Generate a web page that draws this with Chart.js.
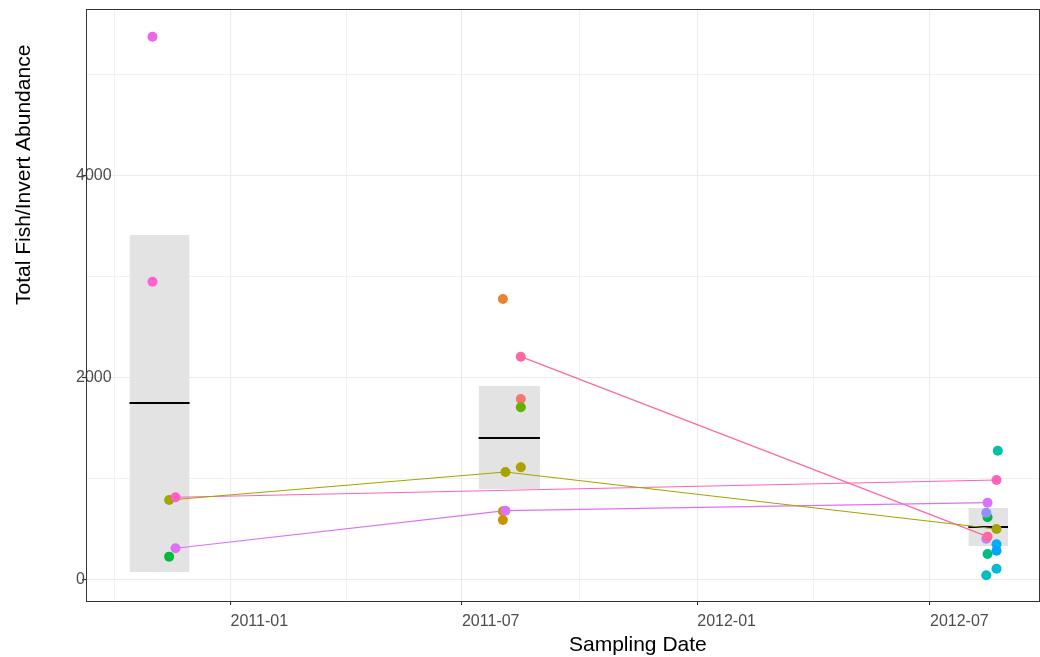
<!DOCTYPE html>
<html>
<head>
<meta charset="utf-8">
<title>Total Fish/Invert Abundance by Sampling Date</title>
<script src="https://cdn.jsdelivr.net/npm/chart.js@4.4.1/dist/chart.umd.min.js"></script>
<style>
  html, body { margin: 0; padding: 0; background: #ffffff; }
  #wrap { width: 1040px; height: 657px; }
</style>
</head>
<body>
<div id="wrap"><canvas id="chart" width="1040" height="657"></canvas></div>
<script>
// ---- Observations: one row per site visit ----
const obsDate = [
  '2010-11-01', '2010-11-01', '2010-11-14', '2010-11-19', '2010-11-14', '2010-11-19',
  '2011-08-02', '2011-08-16', '2011-08-16', '2011-08-16', '2011-08-16', '2011-08-04',
  '2011-08-02', '2011-08-02', '2011-08-04',
  '2012-08-23', '2012-08-22', '2012-08-15', '2012-08-15', '2012-08-14', '2012-08-22',
  '2012-08-14', '2012-08-15', '2012-08-22', '2012-08-22', '2012-08-15', '2012-08-22',
  '2012-08-14'
];
const obsSite = [
  18, 19, 5, 20, 7, 17,
  1, 21, 0, 6, 4, 5,
  2, 3, 17,
  11, 20, 17, 8, 15, 5,
  16, 21, 13, 14, 9, 12,
  10
];
const obsAbundance = [
  5379, 2953, 792, 819, 231, 314,
  2782, 2211, 1792, 1710, 1116, 1069,
  680, 594, 686,
  1280, 990, 765, 621, 666, 505,
  409, 429, 353, 290, 257, 112,
  47
];

// ---- Per-sampling-event summary: mean with shaded band ----
const eventStart = ['2010-10-14', '2011-07-14', '2012-07-31'];
const eventEnd   = ['2010-11-30', '2011-08-31', '2012-08-31'];
const eventMean  = [1752, 1406, 525];
const eventLow   = [79, 901, 337];
const eventHigh  = [3416, 1921, 713];

// ---- Axis ticks ----
const xTickDates  = ['2011-01-01', '2011-07-01', '2012-01-01', '2012-07-01'];
const xTickLabels = ['2011-01', '2011-07', '2012-01', '2012-07'];
const yTicks = [0, 2000, 4000];
const xRange = ['2010-09-10', '2012-09-25'];
const yRange = [-208, 5653];

// ---- Styling ----
const siteColours = [
  '#F8766D', '#EA8331', '#C99800', '#C89300', '#ADA000', '#A3A500',
  '#64B200', '#00BA38', '#00B64C', '#00BE80', '#00BFC0', '#00C1A3',
  '#00BAD9', '#00B0F6', '#00A5FF', '#8F91FF', '#B983FF', '#DD71F7',
  '#EE66E6', '#FD61D1', '#FF62BC', '#FF68A2'
];
const FONT = '"Liberation Sans", Arial, Helvetica, sans-serif';

const dayOf = s => Date.UTC(+s.slice(0, 4), +s.slice(5, 7) - 1, +s.slice(8, 10)) / 864e5;

const xMajor = xTickDates.map(dayOf);
const xMinor = [];
for (let i = 0; i < xMajor.length - 1; i++) xMinor.push((xMajor[i] + xMajor[i + 1]) / 2);
xMinor.unshift(xMajor[0] - (xMajor[1] - xMajor[0]) / 2);
const yMinor = [];
for (let i = 0; i < yTicks.length - 1; i++) yMinor.push((yTicks[i] + yTicks[i + 1]) / 2);
yMinor.push(yTicks[yTicks.length - 1] + (yTicks[1] - yTicks[0]) / 2);

const datasets = [];

// shaded bands
eventStart.forEach((s, i) => {
  datasets.push({
    type: 'line',
    data: [{ x: dayOf(s), y: eventHigh[i] }, { x: dayOf(eventEnd[i]), y: eventHigh[i] }],
    fill: { value: eventLow[i] },
    backgroundColor: '#E3E3E3',
    borderColor: 'rgba(0,0,0,0)',
    borderWidth: 0,
    pointRadius: 0,
    order: 4
  });
});

// mean bars
eventStart.forEach((s, i) => {
  datasets.push({
    type: 'line',
    data: [{ x: dayOf(s), y: eventMean[i] }, { x: dayOf(eventEnd[i]), y: eventMean[i] }],
    borderColor: '#000000',
    borderWidth: 2,
    pointRadius: 0,
    fill: false,
    order: 3
  });
});

// lines joining repeat visits to the same site
const bySite = {};
obsSite.forEach((site, i) => {
  (bySite[site] = bySite[site] || []).push({ x: dayOf(obsDate[i]), y: obsAbundance[i] });
});
Object.keys(bySite).forEach(site => {
  const pts = bySite[site].sort((a, b) => a.x - b.x);
  if (pts.length < 2) return;
  datasets.push({
    type: 'line',
    data: pts,
    borderColor: siteColours[site],
    borderWidth: 1.2,
    pointRadius: 0,
    fill: false,
    tension: 0,
    order: 2
  });
});

// observation points
datasets.push({
  type: 'scatter',
  data: obsDate.map((d, i) => ({ x: dayOf(d), y: obsAbundance[i] })),
  backgroundColor: obsSite.map(s => siteColours[s]),
  borderWidth: 0,
  pointRadius: 5,
  pointHoverRadius: 5,
  order: 1
});

const xMajorSet = new Set(xMajor);
const yMajorSet = new Set(yTicks);

// panel frame and axis titles
const panelDecor = {
  id: 'panelDecor',
  afterDatasetsDraw(chart) {
    const { ctx, chartArea: a } = chart;
    ctx.save();
    ctx.strokeStyle = '#333333';
    ctx.lineWidth = 1;
    ctx.strokeRect(a.left + 0.5, a.top + 0.5, a.right - a.left - 1, a.bottom - a.top);
    ctx.restore();
  },
  afterDraw(chart) {
    const { ctx, chartArea: a } = chart;
    ctx.save();
    ctx.fillStyle = '#000000';
    ctx.font = '21px ' + FONT;
    ctx.textAlign = 'left';
    ctx.textBaseline = 'alphabetic';
    ctx.fillText('Sampling Date', (a.left + a.right) / 2 + 6, 651);
    ctx.translate(30, (a.top + a.bottom) / 2);
    ctx.rotate(-Math.PI / 2);
    ctx.fillText('Total Fish/Invert Abundance', 0, 0);
    ctx.restore();
  }
};

new Chart(document.getElementById('chart'), {
  type: 'scatter',
  data: { datasets },
  plugins: [panelDecor],
  options: {
    responsive: false,
    animation: false,
    devicePixelRatio: 1,
    layout: { autoPadding: false, padding: { top: 9, right: 0, bottom: 0, left: 0 } },
    plugins: { legend: { display: false }, tooltip: { enabled: false } },
    scales: {
      x: {
        type: 'linear',
        min: dayOf(xRange[0]),
        max: dayOf(xRange[1]),
        afterBuildTicks: s => { s.ticks = xMajor.concat(xMinor).sort((a, b) => a - b).map(v => ({ value: v })); },
        afterFit: s => { s.height = 56; s.paddingLeft = 0; s.paddingRight = 0; },
        ticks: {
          autoSkip: false,
          maxRotation: 0,
          align: 'start',
          padding: 7,
          color: '#4D4D4D',
          font: { family: FONT, size: 16 },
          callback: v => { const i = xMajor.indexOf(v); return i >= 0 ? xTickLabels[i] : ''; }
        },
        grid: {
          color: '#EBEBEB',
          lineWidth: c => (c.tick && xMajorSet.has(c.tick.value)) ? 1.1 : 0.7,
          tickColor: c => (c.tick && xMajorSet.has(c.tick.value)) ? '#333333' : 'rgba(0,0,0,0)',
          tickLength: 4
        },
        border: { display: false }
      },
      y: {
        type: 'linear',
        min: yRange[0],
        max: yRange[1],
        afterBuildTicks: s => { s.ticks = yTicks.concat(yMinor).sort((a, b) => a - b).map(v => ({ value: v })); },
        afterFit: s => { s.width = 86; s.paddingTop = 0; s.paddingBottom = 0; },
        ticks: {
          mirror: true,
          padding: -10,
          color: '#4D4D4D',
          font: { family: FONT, size: 16 },
          callback: v => yMajorSet.has(v) ? String(v) : ''
        },
        grid: {
          color: '#EBEBEB',
          lineWidth: c => (c.tick && yMajorSet.has(c.tick.value)) ? 1.1 : 0.7,
          tickColor: c => (c.tick && yMajorSet.has(c.tick.value)) ? '#333333' : 'rgba(0,0,0,0)',
          tickLength: 4
        },
        border: { display: false }
      }
    }
  }
});
</script>
</body>
</html>
